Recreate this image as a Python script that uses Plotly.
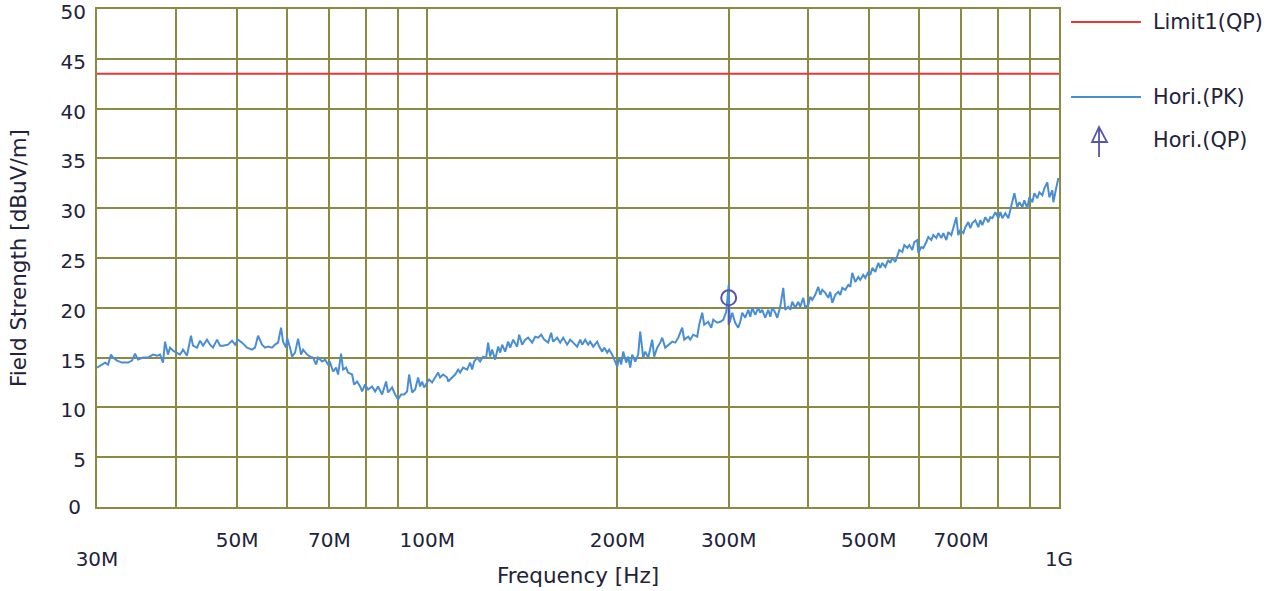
import plotly.graph_objects as go

# Horizontal peak scan: frequency in MHz, level in dBuV/m
freq_mhz = [
    30.00, 30.55, 30.89, 31.23, 31.57, 31.80, 32.27, 32.86, 33.59, 34.08,
    34.46, 34.84, 35.48, 36.13, 36.79, 37.34, 37.75, 38.16, 38.44, 38.86,
    39.15, 39.58, 40.16, 40.60, 41.05, 41.65, 42.26, 42.57, 43.20, 43.68,
    44.16, 44.80, 45.30, 45.79, 46.47, 46.98, 47.50, 48.37, 49.08, 49.62,
    50.16, 50.90, 51.84, 52.79, 53.37, 53.96,
    54.75, 55.35, 55.96, 56.78, 57.41, 58.04, 58.68, 59.11, 59.76, 59.98,
    60.64, 61.08, 61.75, 62.44, 63.12, 63.59, 64.52, 65.23, 65.95, 66.67,
    67.16, 68.15, 68.90, 69.65, 70.16, 70.93, 71.72, 72.24, 73.03, 73.57,
    74.38, 74.92, 76.02, 76.58, 77.42, 78.27, 78.85, 79.71, 80.59, 81.77,
    82.67, 83.58, 84.81, 86.05, 86.68, 87.96, 88.93, 89.91, 90.90, 91.90,
    92.90, 93.59, 94.61, 95.66, 96.71,
    97.42, 98.13, 98.85, 99.93, 100.66, 101.77, 102.89, 104.02, 104.78, 105.94,
    107.49, 107.88, 109.47, 110.67, 111.89, 112.71, 113.95, 115.62, 116.89, 117.75,
    118.61, 119.92, 121.23, 122.57, 123.91, 124.82, 125.74, 126.65, 128.05, 129.47,
    130.42, 131.37, 132.82, 134.28, 135.26, 136.75, 138.76, 139.77, 141.31, 142.86,
    144.43, 146.56, 148.17, 149.80, 151.45, 153.11, 155.36, 157.07, 158.22, 160.54,
    162.31, 164.09, 166.50, 168.33, 170.18, 172.69,
    174.58, 175.86, 177.79, 179.75, 181.07, 183.06, 185.76, 187.12, 189.18, 190.56,
    192.66, 194.06, 196.20, 197.63, 199.81, 201.27, 202.74, 204.23, 206.47, 207.98,
    209.51, 211.04, 213.36, 215.70, 217.29, 219.68, 221.28, 223.71, 225.35, 227.00,
    228.66, 231.18, 233.72, 235.43, 238.02, 240.63, 244.17, 246.85, 249.57, 253.24,
    255.09, 258.84, 260.73, 263.60, 267.5, 269.4, 272.4, 274.4, 278.4, 281.5,
    283.6, 287.7, 290.9, 294.1, 297.3, 300.0, 301.0, 303.9, 307.2, 310.6,
    312.9, 315.2, 318.6, 322.2, 324.5, 326.9, 330.5, 334.1, 336.6, 339.0,
    342.7, 346.5, 349.1, 351.6, 355.5, 358.1, 362.0, 366.0, 368.7, 372.7,
    375.5, 378.2, 382.4, 386.6, 389.4, 393.7, 396.6, 401.0, 403.9, 406.8,
    411.3, 415.8, 418.9, 421.9, 426.6, 431.3, 434.4, 437.6, 442.4, 447.3,
    450.6, 453.9, 458.9, 463.9, 467.3, 470.7, 475.9, 481.1, 484.6, 490.0,
    493.6, 499.0, 502.6, 506.3, 511.9, 517.5, 521.3, 525.1, 530.9, 536.7,
    540.7, 544.6, 550.6, 556.7,
    558.7, 564.9, 569.0, 575.3, 579.5, 585.8, 590.1, 596.6, 598.8, 605.4,
    609.8, 616.5, 621.0, 627.9, 632.5, 639.4, 644.1, 651.2, 655.9, 663.2,
    668.0, 675.3, 680.3, 687.8, 692.8, 697.9, 705.6, 710.7, 718.5, 723.8,
    729.1, 737.1, 745.2, 750.7, 756.2, 764.5, 772.9, 778.5, 784.2, 792.9,
    801.6, 807.5, 813.4, 822.4, 831.4, 837.5, 843.6, 849.8, 859.1, 865.4,
    874.9, 881.3, 891.0, 897.6, 907.4, 914.1, 924.1, 930.9, 941.1, 948.0,
    958.4, 965.4, 976.1, 979.6, 990.4, 997.6, 1000.0,
]
level_pk = [
    14.0, 14.3, 14.5, 14.3, 15.3, 15.0, 14.7, 14.5, 14.5, 14.7,
    15.4, 14.8, 15.0, 15.0, 15.3, 15.2, 15.3, 14.5, 16.6, 15.3,
    16.0, 15.7, 15.5, 15.3, 15.8, 15.2, 17.2, 16.2, 16.0, 16.7,
    16.2, 16.8, 16.3, 16.0, 16.8, 16.2, 16.2, 16.3, 16.7, 16.3,
    16.8, 16.5, 16.0, 15.8, 16.0, 17.2,
    16.3, 16.0, 16.1, 16.0, 16.3, 16.5, 18.0, 16.6, 16.0, 17.0,
    16.0, 15.1, 15.5, 16.9, 15.3, 15.8, 15.3, 15.1, 15.0, 14.3,
    15.0, 14.6, 14.8, 14.3, 14.5, 13.6, 14.0, 13.3, 15.4, 13.8,
    14.0, 13.5, 13.3, 12.3, 12.6, 12.1, 11.6, 12.3, 11.8, 12.1,
    11.6, 12.1, 11.3, 12.6, 11.5, 12.0, 11.3, 10.8, 11.3, 11.3,
    11.6, 13.3, 11.5, 11.8, 13.0,
    12.1, 12.6, 12.0, 12.5, 12.8, 12.5, 13.0, 13.5, 13.0, 13.3,
    13.0, 12.6, 13.0, 13.3, 13.8, 13.5, 14.0, 13.8, 14.5, 13.8,
    14.6, 15.0, 14.6, 15.1, 15.0, 16.5, 15.1, 15.8, 14.8, 16.1,
    15.5, 16.3, 15.6, 16.6, 16.0, 16.8, 16.1, 17.3, 16.3, 16.8,
    17.0, 16.5, 17.1, 17.0, 17.3, 16.8, 16.5, 17.5, 16.6, 17.0,
    16.5, 17.0, 16.3, 16.8, 16.5, 16.1,
    16.8, 16.3, 16.8, 16.3, 16.6, 16.1, 16.6, 16.1, 15.6, 16.0,
    15.5, 15.8, 15.3, 14.8, 14.1, 15.0, 14.3, 15.6, 14.5, 15.1,
    14.0, 15.3, 14.6, 15.3, 17.6, 15.0, 15.6, 15.0, 16.1, 16.8,
    15.1, 16.0, 16.5, 17.0, 16.0, 16.3, 16.6, 16.5, 17.0, 18.0,
    16.8, 17.1, 16.8, 17.3, 17.1, 18.3, 19.5, 18.3, 18.6, 18.0,
    18.8, 18.5, 18.6, 18.8, 19.6, 22.3, 18.5, 19.5, 18.5, 18.0,
    18.6, 19.5, 19.0, 19.8, 19.1, 20.0, 19.3, 20.0, 19.5, 19.8,
    19.0, 19.8, 19.1, 20.0, 19.5, 19.0, 20.1, 22.0, 19.8, 20.1,
    19.8, 20.6, 20.0, 20.6, 20.1, 21.0, 20.0, 20.3, 21.1, 20.8,
    21.3, 22.1, 21.3, 21.8, 21.5, 21.0, 21.6, 20.5, 21.3, 21.6,
    21.3, 22.0, 21.8, 22.3, 22.1, 23.5, 22.6, 23.1, 22.8, 23.3,
    23.0, 23.6, 23.3, 24.0, 23.6, 24.5, 24.0, 24.5, 24.1, 24.8,
    24.5, 25.0, 24.6, 25.5,
    25.8, 25.6, 26.3, 26.0, 26.3, 25.8, 26.6, 26.8, 25.5, 26.1,
    26.0, 26.6, 27.1, 26.8, 27.3, 27.0, 27.5, 27.0, 27.5, 26.8,
    27.6, 27.3, 28.0, 29.1, 27.3, 27.8, 27.5, 28.1, 28.6, 28.0,
    28.5, 28.8, 28.1, 28.8, 28.3, 29.1, 28.6, 29.1, 29.0, 29.6,
    29.0, 29.6, 29.0, 29.5, 29.0, 29.8, 30.5, 31.5, 30.1, 30.6,
    30.1, 30.8, 30.0, 31.1, 30.6, 31.5, 31.0, 31.6, 31.3, 32.0,
    32.6, 31.1, 31.8, 30.6, 32.1, 33.0, 32.8,
]

# Quasi-peak measurement
qp_freq_mhz = [300.0]
qp_level = [21.0]

# Limit line (QP), 30 MHz .. 1 GHz
limit_freq_mhz = [30.0, 1000.0]
limit_level = [43.5, 43.5]

# Axis ticks
y_ticks = [0, 5, 10, 15, 20, 25, 30, 35, 40, 45, 50]
y_tick_text = ["0", "", "", "", "", "", "", "", "", "", ""]
y_label_ticks = [5, 10, 15, 20, 25, 30, 35, 40, 45, 50]
x_grid_mhz = [30, 40, 50, 60, 70, 80, 90, 100, 200, 300, 400, 500, 600, 700, 800, 900, 1000]
x_grid_text = ["", "", "50M", "", "70M", "", "", "100M", "200M", "300M", "", "500M", "", "700M", "", "", ""]
x_end_mhz = [30, 1000]
x_end_text = ["30M", "1G"]

FONT = "DejaVu Sans"
TEXT = "#22223a"
GRID = "#8a8a40"
RED = "#e8373a"
BLUE = "#4a8ed2"
QP_COLOR = "#5656aa"
QP_STEM_TOP = 0.75    # dB below marker centre (circle edge)
QP_STEM_LEN = 2.7     # dB
X_RANGE = [1.4771213, 3.0]
Y_RANGE = [0, 50]
LABEL_DROP = 0.3      # y labels sit slightly below their grid lines (dB)

fig = go.Figure()

fig.add_trace(go.Scatter(
    x=limit_freq_mhz, y=limit_level, mode="lines",
    line=dict(color=RED, width=1.8), name="Limit1(QP)",
))
fig.add_trace(go.Scatter(
    x=freq_mhz, y=level_pk, mode="lines",
    line=dict(color=BLUE, width=2), name="Hori.(PK)",
))
# QP marker: open circle with a short stem below it
fig.add_trace(go.Scatter(
    x=[qp_freq_mhz[0], qp_freq_mhz[0]],
    y=[qp_level[0] - QP_STEM_TOP, qp_level[0] - QP_STEM_LEN],
    mode="lines", line=dict(color=QP_COLOR, width=2),
))
fig.add_trace(go.Scatter(
    x=qp_freq_mhz, y=qp_level, mode="markers",
    marker=dict(symbol="circle-open", size=15, color=QP_COLOR, line=dict(width=2)),
    name="Hori.(QP)",
))
# invisible carriers for the label-only axes
fig.add_trace(go.Scatter(
    x=limit_freq_mhz, y=limit_level, xaxis="x2", mode="markers",
    marker=dict(opacity=0, size=1), hoverinfo="skip",
))
fig.add_trace(go.Scatter(
    x=limit_freq_mhz, y=limit_level, yaxis="y2", mode="markers",
    marker=dict(opacity=0, size=1), hoverinfo="skip",
))

tick_font = dict(family=FONT, size=20, color=TEXT)
title_font = dict(family=FONT, size=21.5, color=TEXT)
legend_font = dict(family=FONT, size=20.8, color=TEXT)

fig.update_layout(
    width=1281, height=591,
    margin=dict(l=97, r=222, t=9, b=84, autoexpand=False),
    paper_bgcolor="white", plot_bgcolor="white",
    font=tick_font,
    xaxis=dict(
        type="log", range=X_RANGE, automargin=False,
        tickvals=x_grid_mhz, ticktext=x_grid_text,
        showgrid=True, gridcolor=GRID, gridwidth=2,
        showline=True, linecolor=GRID, linewidth=2, mirror=True,
        ticks="", ticklabelstandoff=14, tickfont=tick_font,
        title=dict(text="Frequency [Hz]", font=title_font, standoff=17),
        zeroline=False,
    ),
    xaxis2=dict(
        type="log", range=X_RANGE, overlaying="x", anchor="y", side="bottom",
        automargin=False,
        tickvals=x_end_mhz, ticktext=x_end_text,
        showgrid=False, showline=False, ticks="", ticklabelstandoff=38,
        tickfont=tick_font, zeroline=False,
    ),
    yaxis=dict(
        range=Y_RANGE, tickvals=y_ticks, ticktext=y_tick_text,
        automargin=False,
        showgrid=True, gridcolor=GRID, gridwidth=2,
        showline=True, linecolor=GRID, linewidth=2, mirror=True,
        ticks="", zeroline=False,
        ticklabelstandoff=10, tickfont=tick_font,
    ),
    yaxis2=dict(
        range=[Y_RANGE[0] + LABEL_DROP, Y_RANGE[1] + LABEL_DROP],
        overlaying="y", anchor="x", side="left",
        tickvals=y_label_ticks, ticklabeloverflow="allow", automargin=False,
        showgrid=False, showline=False, ticks="", zeroline=False,
        ticklabelstandoff=10, tickfont=tick_font,
        title=dict(text="Field Strength [dBuV/m]", font=title_font, standoff=28),
    ),
    showlegend=False,
)

# Legend drawn beside the plot
legend_items = [
    ("Limit1(QP)", 0.9739, RED),
    ("Hori.(PK)", 0.8233, BLUE),
]
for label, yp, color in legend_items:
    fig.add_shape(type="line", xref="paper", yref="paper",
                  x0=1.0125, x1=1.0852, y0=yp, y1=yp,
                  line=dict(color=color, width=1.8))
    fig.add_annotation(xref="paper", yref="paper", x=1.0958, y=yp,
                       text=label, showarrow=False, xanchor="left", yanchor="middle",
                       font=legend_font)

fig.add_shape(type="path", xref="paper", yref="paper",
              path="M 1.0343,0.7329 L 1.0416,0.7631 L 1.0499,0.7329 Z M 1.0416,0.7631 L 1.0416,0.7028",
              line=dict(color=QP_COLOR, width=1.8))
fig.add_annotation(xref="paper", yref="paper", x=1.0958, y=0.7369,
                   text="Hori.(QP)", showarrow=False, xanchor="left", yanchor="middle",
                   font=legend_font)

fig.write_html("out.html")
